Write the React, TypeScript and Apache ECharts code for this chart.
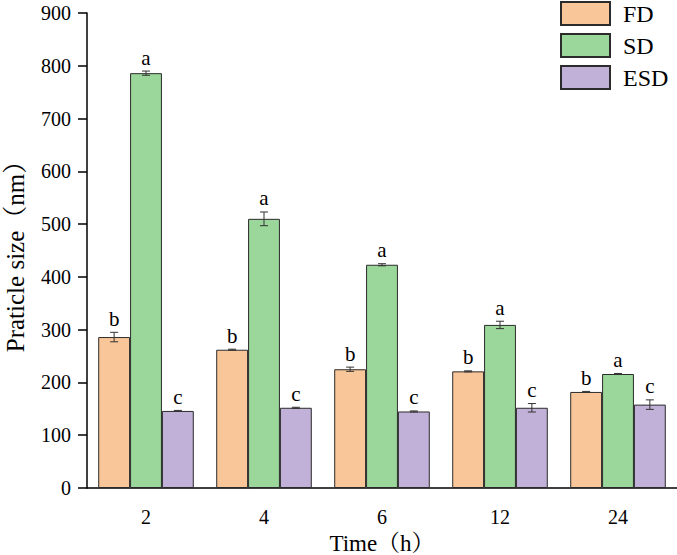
import React, { useEffect, useRef } from "react";
import * as echarts from "echarts";

const categories = ["2", "4", "6", "12", "24"];
const seriesNames = ["FD", "SD", "ESD"];
const fdValues = [286, 262, 225, 221, 182];
const fdErrors = [9, 1, 4, 1, 1];
const sdValues = [786, 510, 423, 309, 216];
const sdErrors = [4, 13, 2, 7, 1];
const esdValues = [146, 152, 145, 152, 158];
const esdErrors = [1, 1, 1, 8, 9];
const fdLetters = ["b", "b", "b", "b", "b"];
const sdLetters = ["a", "a", "a", "a", "a"];
const esdLetters = ["c", "c", "c", "c", "c"];

const colors = ["#F9C699", "#9BD69A", "#C1B0D7"];
const CATEGORY_GAP = 0.19;
const FONT = "Liberation Serif, Noto Serif CJK SC, Noto Sans CJK SC, serif";

function errorSeries(name: string, idx: number, values: number[], errors: number[], letters: string[]) {
  return {
    type: "custom",
    name: name + "-err",
    z: 5,
    data: values.map((v, i) => [i, v, errors[i]]),
    renderItem: (params: any, api: any) => {
      const xi = api.value(0);
      const v = api.value(1);
      const e = api.value(2);
      const center = api.coord([xi, v]);
      const band = api.size([1, 0])[0];
      const bw = (band * (1 - CATEGORY_GAP)) / 3;
      const x = center[0] + (idx - 1) * bw;
      const hi = api.coord([xi, v + e])[1];
      const lo = api.coord([xi, v - e])[1];
      const cap = 4;
      const stroke = { stroke: "#333", lineWidth: 1 };
      return {
        type: "group",
        children: [
          { type: "line", shape: { x1: x, y1: hi, x2: x, y2: lo }, style: stroke },
          { type: "line", shape: { x1: x - cap, y1: hi, x2: x + cap, y2: hi }, style: stroke },
          { type: "line", shape: { x1: x - cap, y1: lo, x2: x + cap, y2: lo }, style: stroke },
          {
            type: "text",
            x: x,
            y: hi - 3,
            style: {
              text: letters[params.dataIndex],
              fontSize: 21,
              fontFamily: FONT,
              fill: "#000",
              align: "center",
              verticalAlign: "bottom",
            },
          },
        ],
      };
    },
  };
}

export default function App() {
  const ref = useRef<HTMLDivElement>(null);
  useEffect(() => {
    if (!ref.current) return;
    const chart = echarts.init(ref.current, null, { renderer: "svg" });
    const valueSets = [fdValues, sdValues, esdValues];
    chart.setOption({
      animation: false,
      backgroundColor: "#fff",
      textStyle: { fontFamily: FONT },
      grid: { left: 87, right: 0, top: 13, bottom: 67, containLabel: false, outerBoundsMode: "none" },
      legend: {
        data: seriesNames,
        orient: "vertical",
        left: 555,
        top: -4,
        itemWidth: 49,
        itemHeight: 23,
        itemGap: 7,
        icon: "rect",
        textStyle: { fontSize: 24, fontFamily: FONT, color: "#000", padding: [0, 0, 0, 8] },
      },
      xAxis: {
        type: "category",
        data: categories,
        name: "Time（h）",
        nameLocation: "middle",
        nameGap: 44,
        nameTextStyle: { fontSize: 23, fontFamily: FONT, color: "#000" },
        axisLine: { lineStyle: { color: "#000", width: 1.5 } },
        axisTick: { alignWithLabel: true, length: 8, lineStyle: { color: "#000", width: 1.5 } },
        axisLabel: { fontSize: 20, fontFamily: FONT, color: "#000", margin: 19 },
      },
      yAxis: {
        type: "value",
        min: 0,
        max: 900,
        interval: 100,
        name: "Praticle size（nm）",
        nameLocation: "middle",
        nameGap: 59,
        nameTextStyle: { fontSize: 25, fontFamily: FONT, color: "#000" },
        axisLine: { show: true, lineStyle: { color: "#000", width: 1.5 } },
        axisTick: { show: true, length: 9, lineStyle: { color: "#000", width: 1.5 } },
        axisLabel: { fontSize: 20, fontFamily: FONT, color: "#000", margin: 16 },
        splitLine: { show: false },
      },
      series: [
        ...seriesNames.map((name, i) => ({
          type: "bar",
          name,
          data: valueSets[i],
          barGap: "0%",
          barCategoryGap: CATEGORY_GAP * 100 + "%",
          itemStyle: { color: colors[i], borderColor: "#2b2b2b", borderWidth: 1 },
        })),
        errorSeries("FD", 0, fdValues, fdErrors, fdLetters),
        errorSeries("SD", 1, sdValues, sdErrors, sdLetters),
        errorSeries("ESD", 2, esdValues, esdErrors, esdLetters),
      ],
    });
    return () => chart.dispose();
  }, []);
  return (
    <div
      ref={ref}
      style={{ position: "absolute", left: 0, top: 0, width: 677, height: 555 }}
    />
  );
}
